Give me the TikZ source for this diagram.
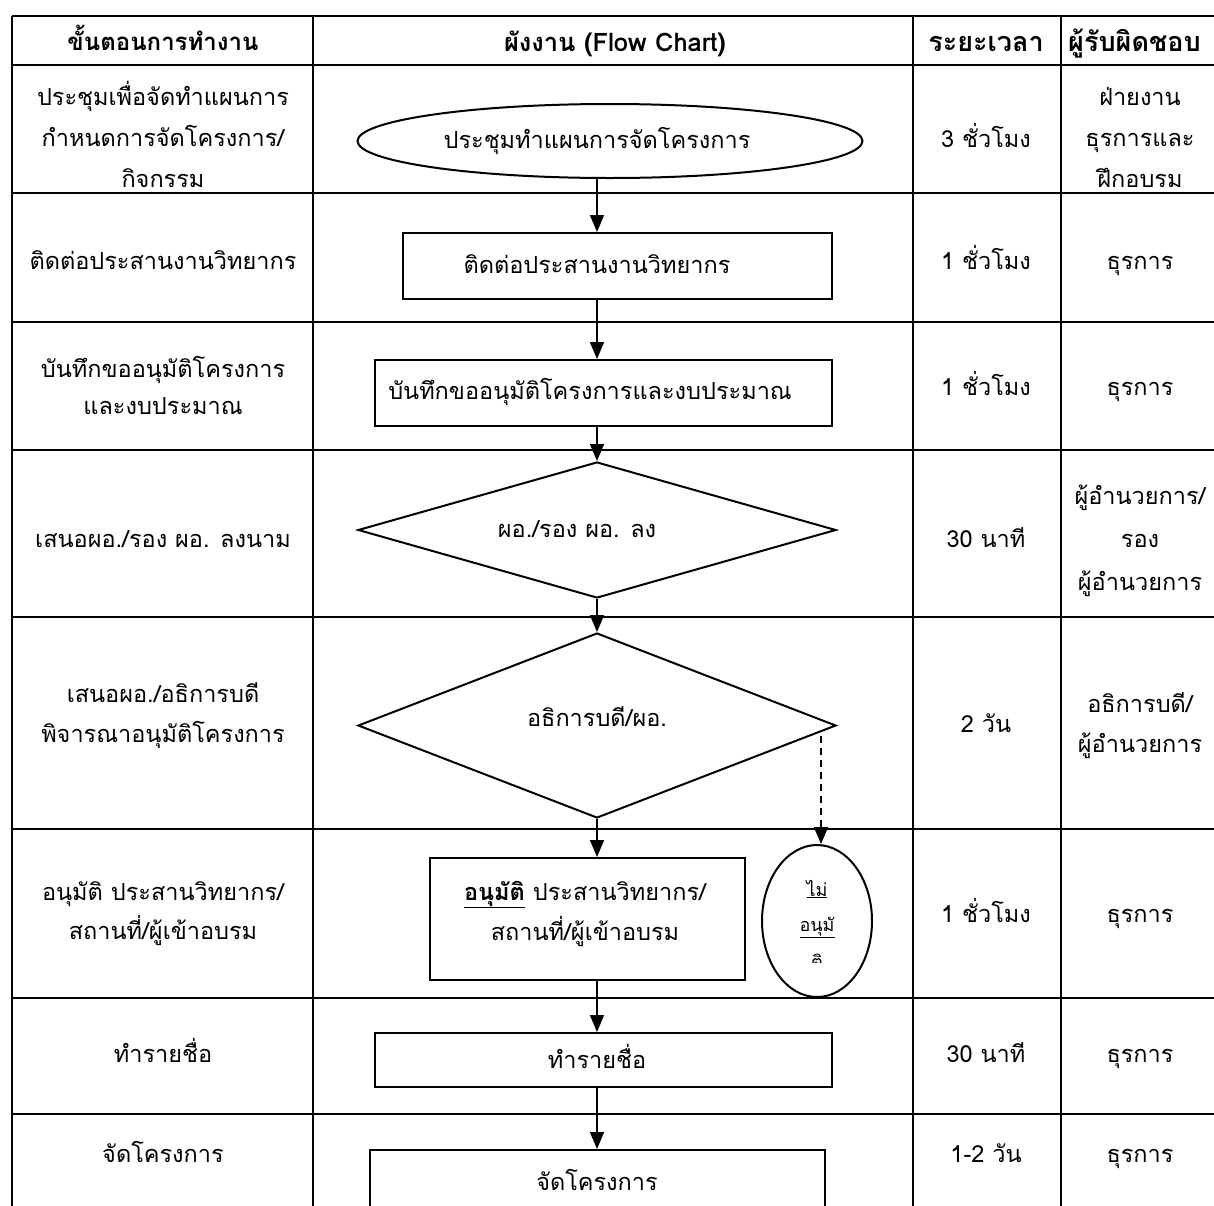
\documentclass[tikz,border=0pt]{standalone}
\usepackage{fontspec}
\newfontfamily\thai[Script=Thai]{Loma}
\usetikzlibrary{shapes.geometric,arrows.meta}
\begin{document}
\begin{tikzpicture}[x=1pt,y=-1pt,
  grid/.style={line width=2.6pt},
  shp/.style={draw, line width=2pt, inner sep=0pt},
  arr/.style={line width=1.6pt,-{Triangle[length=17pt,width=14pt]}},
  txt/.style={font=\thai\fontsize{23.5}{41}\selectfont, align=center, inner sep=0pt, anchor=base},
  hdr/.style={font=\thai\bfseries\fontsize{24}{41}\selectfont, align=center, inner sep=0pt, anchor=base},
  small/.style={font=\thai\fontsize{18}{20}\selectfont, inner sep=0pt, anchor=base}
]
\useasboundingbox (0,0) rectangle (1214,1205);
\fill[white] (0,0) rectangle (1214,1205);
\begin{scope}
\clip (0,0) rectangle (1214,1205);
% table grid
\foreach \yy in {16,65,193,322,450,617,829,998,1114}
  \draw[grid] (12,\yy) -- (1230,\yy);
\foreach \xx in {12,313,913,1061}
  \draw[grid] (\xx,16) -- (\xx,1215);
% header
\node[hdr] (h1) at (163,50) {ขั้นตอนการทำงาน};
\node[hdr, font=\thai\bfseries\fontsize{25.5}{41}\selectfont] (h2) at (615,51) {ผังงาน (Flow Chart)};
\node[hdr, font=\thai\bfseries\fontsize{27}{41}\selectfont] (h3) at (986,51) {ระยะเวลา};
\node[hdr, font=\thai\bfseries\fontsize{27}{41}\selectfont, anchor=base west] (h4) at (1068,51) {ผู้รับผิดชอบ};
% column 1 (multi-line nodes: base = last line)
\node[txt] (a1) at (163,187) {ประชุมเพื่อจัดทำแผนการ\\กำหนดการจัดโครงการ/\\กิจกรรม};
\node[txt] (a2) at (163,269) {ติดต่อประสานงานวิทยากร};
\node[txt] (a3) at (163,414) {บันทึกขออนุมัติโครงการ\\[-4pt]และงบประมาณ};
\node[txt] (a4) at (163,547) {เสนอผอ./รอง ผอ. ลงนาม};
\node[txt] (a5) at (163,742) {เสนอผอ./อธิการบดี\\[-1pt]พิจารณาอนุมัติโครงการ};
\node[txt] (a6) at (163,939) {อนุมัติ ประสานวิทยากร/\\[-2pt]สถานที่/ผู้เข้าอบรม};
\node[txt] (a7) at (163,1062) {ทำรายชื่อ};
\node[txt] (a8) at (163,1162) {จัดโครงการ};
% column 3
\node[txt] (t1) at (986,147) {3 ชั่วโมง};
\node[txt] (t2) at (986,269) {1 ชั่วโมง};
\node[txt] (t3) at (986,395) {1 ชั่วโมง};
\node[txt] (t4) at (986,547) {30 นาที};
\node[txt] (t5) at (986,732) {2 วัน};
\node[txt] (t6) at (986,922) {1 ชั่วโมง};
\node[txt] (t7) at (986,1062) {30 นาที};
\node[txt] (t8) at (986,1162) {1-2 วัน};
% column 4
\node[txt] (r1) at (1140,187) {ฝ่ายงาน\\ธุรการและ\\ฝึกอบรม};
\node[txt] (r2) at (1140,269) {ธุรการ};
\node[txt] (r3) at (1140,395) {ธุรการ};
\node[txt] (r4) at (1140,590) {ผู้อำนวยการ/\\[2pt]รอง\\[2pt]ผู้อำนวยการ};
\node[txt] (r5) at (1140,752) {อธิการบดี/\\[-1pt]ผู้อำนวยการ};
\node[txt] (r6) at (1140,922) {ธุรการ};
\node[txt] (r7) at (1140,1062) {ธุรการ};
\node[txt] (r8) at (1140,1162) {ธุรการ};
% flowchart shapes
\coordinate (ax) at (597,0);
\node[shp, ellipse, minimum width=505pt, minimum height=74pt] (e1) at (610,141) {};
\node[txt] (e1t) at (597,148) {ประชุมทำแผนการจัดโครงการ};
\node[shp, rectangle, minimum width=429pt, minimum height=66pt, fill=white] (b2) at (617.5,266) {};
\node[txt] (b2t) at (597,273) {ติดต่อประสานงานวิทยากร};
\node[shp, rectangle, minimum width=457pt, minimum height=66pt, fill=white] (b3) at (603.5,393) {};
\node[txt] (b3t) at (590,399) {บันทึกขออนุมัติโครงการและงบประมาณ};
\node[shp, diamond, minimum width=478pt, minimum height=136pt] (d1) at (597,530) {};
\node[txt] (d1t) at (577,537) {ผอ./รอง ผอ. ลง};
\node[shp, diamond, minimum width=478pt, minimum height=185pt] (d2) at (597,725.5) {};
\node[txt] (d2t) at (597,726) {อธิการบดี/ผอ.};
\node[shp, rectangle, minimum width=315pt, minimum height=122pt, fill=white] (b6) at (587.5,919) {};
\node[txt] (b6t) at (585,940) {\underline{\textbf{อนุมัติ}} ประสานวิทยากร/\\[-1pt]สถานที่/ผู้เข้าอบรม};
\node[shp, ellipse, minimum width=110pt, minimum height=152pt] (no) at (817,921) {};
\node[small] (n1) at (817,896) {\underline{ไม่}};
\node[small] (n2) at (817,931) {\underline{อนุมั}};
\begin{scope}
\clip (795,946) rectangle (840,962);
\node[small] (n3) at (817,968) {ติ};
\end{scope}
\node[shp, rectangle, minimum width=457pt, minimum height=54pt, fill=white] (b7) at (603.5,1060) {};
\node[txt] (b7t) at (597,1068) {ทำรายชื่อ};
\node[shp, rectangle, minimum width=455pt, minimum height=110pt, fill=white, anchor=north] (b8) at (597,1149) {};
\node[txt] (b8t) at (597,1190) {จัดโครงการ};
% connectors
\draw[arr] (e1.south -| ax) -- (b2.north -| ax);
\draw[arr] (b2.south -| ax) -- (b3.north -| ax);
\draw[arr] (b3.south -| ax) -- (d1.north);
\draw[arr] (d1.south) -- (d2.north);
\draw[arr] (d2.south) -- (b6.north -| ax);
\coordinate (ds) at (821,736);
\draw[arr, dashed, dash pattern=on 7pt off 5pt] (ds) -- (no.north -| ds);
\draw[arr] (b6.south -| ax) -- (b7.north -| ax);
\draw[arr] (b7.south -| ax) -- (b8.north -| ax);
\end{scope}
\end{tikzpicture}
\end{document}
